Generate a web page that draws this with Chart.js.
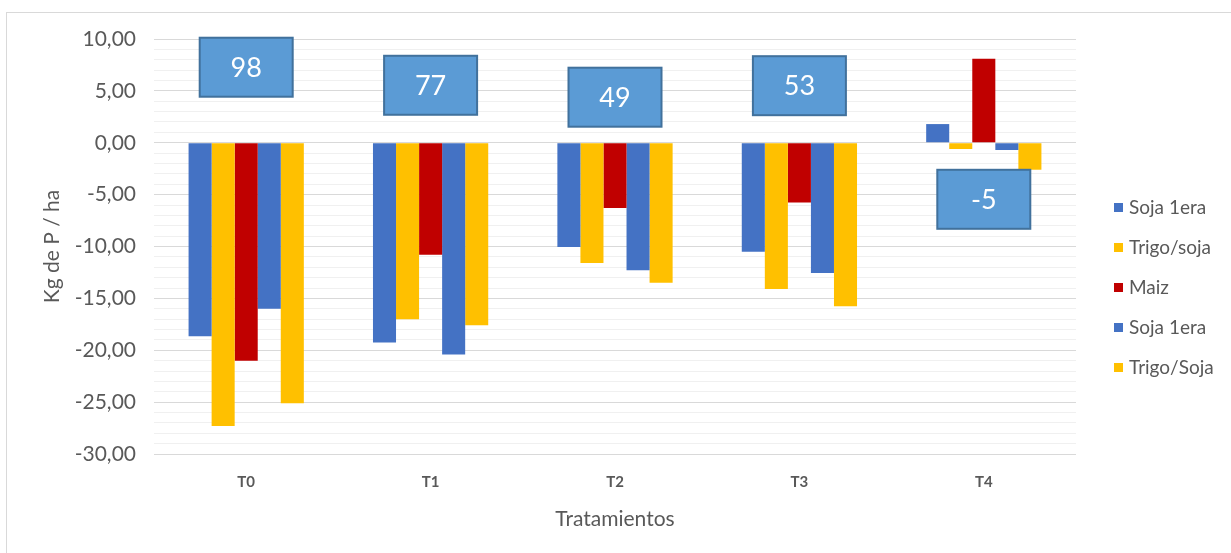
<!DOCTYPE html>
<html>
<head>
<meta charset="utf-8">
<script src="https://cdn.jsdelivr.net/npm/chart.js@4.4.0/dist/chart.umd.min.js"></script>
<style>
html,body{margin:0;padding:0;background:#fff;}
#wrap{width:1231px;height:553px;position:relative;}
</style>
</head>
<body>
<div id="wrap"><canvas id="c" width="1231" height="553"></canvas></div>
<script>
const categories = ["T0", "T1", "T2", "T3", "T4"];
const seriesNames = ["Soja 1era", "Trigo/soja", "Maiz", "Soja 1era", "Trigo/Soja"];
const soja1 = [-18.65, -19.25, -10.05, -10.5, 1.8];
const trigoSoja1 = [-27.3, -17.0, -11.6, -14.1, -0.6];
const maiz = [-21.0, -10.8, -6.3, -5.75, 8.1];
const soja2 = [-16.0, -20.4, -12.3, -12.55, -0.7];
const trigoSoja2 = [-25.1, -17.6, -13.5, -15.75, -2.6];
const boxLabels = ["98", "77", "49", "53", "-5"];
const boxCenters = [7.28, 5.54, 4.39, 5.5, -5.45];
const yMin = -30, yMax = 10;

const colors = ["#4472c4", "#ffc000", "#c00000", "#4472c4", "#ffc000"];
const seriesValues = [soja1, trigoSoja1, maiz, soja2, trigoSoja2];
const FONT = "Lato, 'Open Sans', sans-serif";

const framePlugin = {
  id: 'frame',
  beforeDraw(chart) {
    const ctx = chart.ctx;
    ctx.save();
    ctx.strokeStyle = '#d9d9d9';
    ctx.lineWidth = 1;
    ctx.strokeRect(6.5, 12.5, 1240, 560);
    ctx.restore();
  }
};

const boxPlugin = {
  id: 'boxes',
  afterDatasetsDraw(chart) {
    const ctx = chart.ctx;
    const xs = chart.scales.x, ys = chart.scales.y;
    ctx.save();
    boxLabels.forEach((lab, i) => {
      const cx = xs.getPixelForValue(i);
      const cy = ys.getPixelForValue(boxCenters[i]);
      const w = 93, h = 59;
      ctx.fillStyle = '#5b9bd5';
      ctx.fillRect(cx - w/2, cy - h/2, w, h);
      ctx.strokeStyle = '#41719c';
      ctx.lineWidth = 2;
      ctx.strokeRect(cx - w/2, cy - h/2, w, h);
      ctx.fillStyle = '#ffffff';
      ctx.font = "27px " + FONT;
      ctx.textAlign = 'center';
      ctx.textBaseline = 'middle';
      ctx.fillText(lab, cx, cy + 1);
    });
    ctx.restore();
  }
};

const legendPlugin = {
  id: 'customLegend',
  afterDraw(chart) {
    const ctx = chart.ctx;
    ctx.save();
    const x0 = 1114, y0 = 207, step = 40;
    chart.data.datasets.forEach((ds, i) => {
      const y = y0 + i * step;
      ctx.fillStyle = ds.backgroundColor;
      ctx.fillRect(x0, y - 4, 9, 9);
      ctx.fillStyle = '#595959';
      ctx.font = "19px " + FONT;
      ctx.textAlign = 'left';
      ctx.textBaseline = 'middle';
      ctx.fillText(ds.label, x0 + 15, y + 1);
    });
    ctx.restore();
  }
};

new Chart(document.getElementById('c'), {
  type: 'bar',
  data: {
    labels: categories,
    datasets: seriesNames.map((n, i) => ({
      label: n,
      data: seriesValues[i],
      backgroundColor: colors[i],
      borderWidth: 0,
      barPercentage: 1,
      categoryPercentage: 0.625
    }))
  },
  options: {
    responsive: false,
    animation: false,
    devicePixelRatio: 1,
    layout: { padding: { top: 39, right: 155, left: 0, bottom: 0 } },
    plugins: { legend: { display: false }, tooltip: { enabled: false } },
    scales: {
      x: {
        grid: { display: false, drawTicks: false },
        border: { display: false },
        ticks: { color: '#595959', font: { family: FONT, size: 15, weight: 'bold' }, padding: 19 },
        title: { display: true, text: 'Tratamientos', color: '#595959', font: { family: FONT, size: 21 }, padding: { top: 0, bottom: 21 } },
        afterFit(s) { s.height = 99; }
      },
      y: {
        min: yMin, max: yMax,
        grid: {
          drawTicks: false,
          color: (c) => (c.tick && Math.round(c.tick.value) % 5 === 0) ? '#d9d9d9' : '#f0f0f0',
          lineWidth: 1
        },
        border: { display: false },
        ticks: {
          stepSize: 1,
          autoSkip: false,
          padding: 18,
          color: '#595959',
          font: { family: FONT, size: 21 },
          callback: (v) => (Math.round(v) % 5 === 0) ? v.toFixed(2).replace('.', ',') : ''
        },
        title: { display: true, text: 'Kg de P / ha', color: '#595959', font: { family: FONT, size: 21 }, padding: { top: 40, bottom: 0 } },
        afterFit(s) { s.width = 154; }
      }
    }
  },
  plugins: [framePlugin, boxPlugin, legendPlugin]
});
</script>
</body>
</html>
